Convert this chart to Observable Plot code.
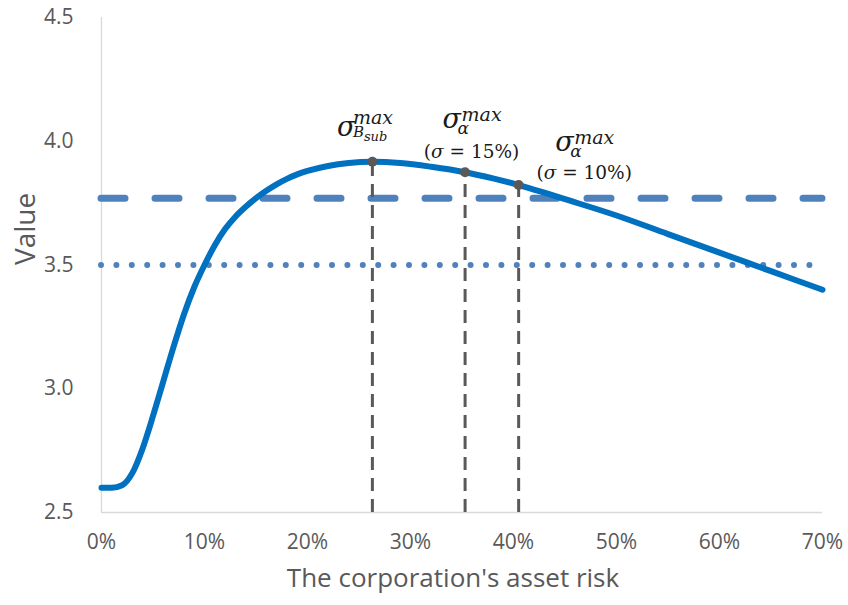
<!DOCTYPE html>
<html><head><meta charset="utf-8">
<script src="https://cdn.jsdelivr.net/npm/d3@7"></script>
<script src="https://cdn.jsdelivr.net/npm/@observablehq/plot@0.6"></script>
<style>body{margin:0;background:#fff} #chart{width:848px;height:605px}</style>
</head><body><div id="chart"></div>
<script>
// data
const riskPct = [0,1,2,3,4,5,6,7,8,9,10,11,12,13,14,15,16,17,18,19,20,22,24,26.3,29,32,35.3,38,40.5,43,45,50,55,60,65,70];
const values  = [2.6,2.6,2.61,2.66,2.76,2.89,3.03,3.17,3.30,3.41,3.50,3.58,3.645,3.695,3.735,3.77,3.80,3.826,3.848,3.866,3.88,3.90,3.912,3.917,3.912,3.897,3.875,3.85,3.823,3.792,3.766,3.70,3.625,3.55,3.475,3.40];
const dashedLevel = 3.77;
const dottedLevel = 3.5;
const markerRisk  = [26.3, 35.3, 40.5];
const markerValue = [3.917, 3.875, 3.823];
const markerNotes = [null, "15%", "10%"];
const xTicks = [0,10,20,30,40,50,60,70];
const yTicks = [2.5,3.0,3.5,4.0,4.5];
const xLabel = "The corporation's asset risk";
const yLabel = "Value";

const curve = riskPct.map((r,i)=>({r, v: values[i]}));
const markers = markerRisk.map((r,i)=>({r, v: markerValue[i]}));

const plot = Plot.plot({
  width: 848, height: 605,
  marginLeft: 101, marginRight: 26, marginTop: 17, marginBottom: 93,
  style: {fontFamily: "'Open Sans', sans-serif", background: "#fff"},
  x: {domain: [0,70], label: null},
  y: {domain: [2.5,4.5], label: null},
  marks: [
    Plot.ruleX([0], {stroke: "#d9d9d9", strokeWidth: 1.3}),
    Plot.ruleY([2.5], {stroke: "#d9d9d9", strokeWidth: 1.3}),
    Plot.axisX({ticks: xTicks, tickFormat: d => d + "%", tickSize: 0, tickPadding: 22, fontSize: 21, fill: "#595959", label: null}),
    Plot.axisY({ticks: yTicks, tickFormat: d => d.toFixed(1), tickSize: 0, tickPadding: 28, fontSize: 21, fill: "#595959", label: null}),
    Plot.ruleY([dashedLevel], {stroke: "#4f81bd", strokeWidth: 7, strokeDasharray: "24,30", strokeLinecap: "round"}),
    Plot.ruleY([dottedLevel], {stroke: "#4f81bd", strokeWidth: 6, strokeDasharray: "0,15.4", strokeLinecap: "round"}),
    Plot.ruleX(markers, {x: "r", y1: 2.5, y2: "v", stroke: "#595959", strokeWidth: 3, strokeDasharray: "13,8"}),
    Plot.line(curve, {x: "r", y: "v", stroke: "#0070c0", strokeWidth: 6, curve: "monotone-x"}),
    Plot.dot(markers, {x: "r", y: "v", r: 5, fill: "#595959"}),
    Plot.text([xLabel], {frameAnchor: "bottom", dx: -9, dy: 74, fontSize: 26, fill: "#595959", fontFamily: "'Open Sans', sans-serif"}),
    Plot.text([yLabel], {frameAnchor: "left", dx: -75, rotate: -90, fontSize: 28, fill: "#595959", fontFamily: "'Open Sans', sans-serif"})
  ]
});
document.getElementById("chart").appendChild(plot);

// math annotations (one text element each, with sub/superscript tspans), positioned via the plot's scales
const sx = plot.scale("x"), sy = plot.scale("y");
const svg = d3.select(plot);
const serif = "'DejaVu Serif', serif";
function mathLabel(i, dxs, dys) {
  const px = sx.apply(markerRisk[i]) + dxs, py = sy.apply(markerValue[i]) + dys;
  const t = svg.append("text").attr("font-family", serif).attr("fill", "#1a1a1a")
    .attr("text-anchor", "start").attr("font-style", "italic");
  const span = (x, y, size, txt) => t.append("tspan").attr("x", x).attr("y", y).attr("font-size", size).text(txt);
  span(px, py, 27, "σ");
  if (markerNotes[i] === null) {
    span(px + 16, py + 1, 15, "B");
    span(px + 27, py + 5, 13, "sub");
    span(px + 16, py - 12, 19, "max");
  } else {
    span(px + 15, py + 6, 17, "α");
    span(px + 19, py - 7, 19, "max");
    svg.append("text").attr("font-family", serif).attr("fill", "#1a1a1a")
      .attr("x", px + 29).attr("y", py + (i === 1 ? 30 : 28)).attr("font-size", 18.5).attr("text-anchor", "middle")
      .html('(<tspan font-style="italic">σ</tspan> = ' + markerNotes[i] + ')');
  }
}
mathLabel(0, -35, -25);
mathLabel(1, -22, -44);
mathLabel(2, 37, -34);
</script>
</body></html>
